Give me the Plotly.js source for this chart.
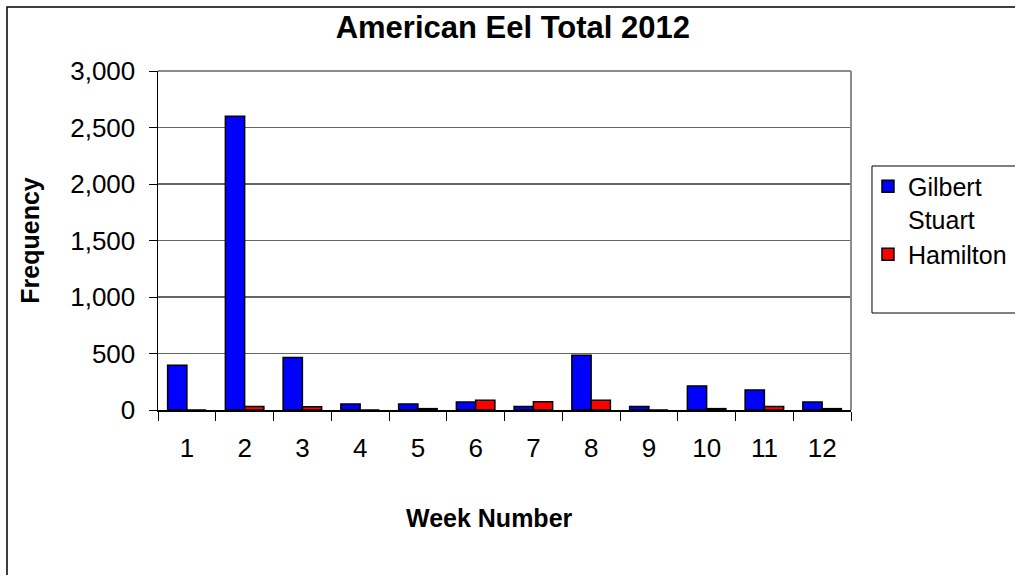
<!DOCTYPE html>
<html>
<head>
<meta charset="utf-8">
<script src="https://cdn.plot.ly/plotly-3.0.1.min.js"></script>
<style>
  html, body { margin: 0; padding: 0; background: #ffffff; }
  #chart { width: 1015px; height: 575px; }
</style>
</head>
<body>
<div id="chart"></div>
<script>
// Weekly American eel counts, 2012
const weeks = ['1', '2', '3', '4', '5', '6', '7', '8', '9', '10', '11', '12'];
const gilbertStuart = [395, 2600, 465, 52, 52, 70, 30, 485, 30, 213, 177, 70];
const hamilton = [0, 30, 28, 0, 12, 87, 72, 87, 0, 12, 30, 12];
const yTicks = [0, 500, 1000, 1500, 2000, 2500, 3000];
const yTickText = ['0', '500', '1,000', '1,500', '2,000', '2,500', '3,000'];

const FONT = 'Liberation Sans, Arial, Helvetica, sans-serif';

const traces = [
  {
    type: 'bar',
    name: 'Gilbert<br>Stuart',
    x: weeks,
    y: gilbertStuart,
    marker: { color: '#0000ff', line: { color: '#000000', width: 1.5 } },
    hoverinfo: 'x+y'
  },
  {
    type: 'bar',
    name: 'Hamilton',
    x: weeks,
    y: hamilton,
    marker: { color: '#ff0000', line: { color: '#000000', width: 1.5 } },
    hoverinfo: 'x+y'
  }
];

const layout = {
  width: 1015,
  height: 575,
  margin: { l: 158, r: 164, t: 71, b: 165, autoexpand: false },
  paper_bgcolor: '#ffffff',
  plot_bgcolor: '#ffffff',
  font: { family: FONT, color: '#000000', size: 26 },
  barmode: 'group',
  bargap: 0.333,
  bargroupgap: 0,
  title: {
    text: '<b>American Eel Total 2012</b>',
    font: { family: FONT, size: 31, color: '#000000' },
    xref: 'paper', x: 0.512, xanchor: 'center',
    yref: 'container', y: 0.953, yanchor: 'middle'
  },
  xaxis: {
    type: 'category',
    tickson: 'boundaries',
    ticks: 'outside', ticklen: 9, tickwidth: 1, tickcolor: '#000000',
    ticklabelstandoff: 14,
    tickfont: { family: FONT, size: 26, color: '#000000' },
    showline: true, linecolor: '#000000', linewidth: 1.5,
    showgrid: false, zeroline: false
  },
  yaxis: {
    range: [0, 3000],
    tickvals: yTicks,
    ticktext: yTickText,
    ticks: 'outside', ticklen: 8, tickwidth: 1, tickcolor: '#000000',
    ticklabelstandoff: 8,
    tickfont: { family: FONT, size: 26, color: '#000000' },
    showline: true, linecolor: '#000000', linewidth: 1.5,
    showgrid: true, gridcolor: '#666666', gridwidth: 1.3,
    zeroline: false,
    title: {
      text: '<b>Frequency</b>',
      font: { family: FONT, size: 25, color: '#000000' },
      standoff: 23
    }
  },
  // x-axis title, set slightly left of the plot centre
  annotations: [
    { text: '<b>Week Number</b>', xref: 'paper', yref: 'paper',
      x: 0.479, y: -0.32, xanchor: 'center', yanchor: 'middle',
      showarrow: false, font: { family: FONT, size: 25, color: '#000000' } }
  ],
  showlegend: true,
  legend: {
    x: 1.0245, xanchor: 'left',
    y: 0.727, yanchor: 'top',
    bgcolor: 'rgba(0,0,0,0)',
    borderwidth: 0,
    valign: 'top',
    traceorder: 'normal',
    font: { family: FONT, size: 25, color: '#000000' }
  },
  shapes: [
    // outer chart frame
    { type: 'rect', xref: 'paper', yref: 'paper',
      x0: -0.2179, x1: 1.2468, y0: -0.5074, y1: 1.1888,
      line: { color: '#000000', width: 1.5 }, fillcolor: 'rgba(0,0,0,0)', layer: 'above' },
    // legend box
    { type: 'rect', xref: 'paper', yref: 'paper',
      x0: 1.0303, x1: 1.2468, y0: 0.2861, y1: 0.7198,
      line: { color: '#000000', width: 1 }, fillcolor: 'rgba(0,0,0,0)', layer: 'above' },
    // plot area border, right side
    { type: 'line', xref: 'paper', yref: 'paper',
      x0: 1, x1: 1, y0: 0, y1: 1,
      line: { color: '#8c8c8c', width: 2 }, layer: 'above' },
    // plot area border, top side
    { type: 'line', xref: 'paper', yref: 'paper',
      x0: 0, x1: 1, y0: 1, y1: 1,
      line: { color: '#8c8c8c', width: 2 }, layer: 'above' }
  ]
};

Plotly.newPlot('chart', traces, layout, { displayModeBar: false, staticPlot: true });
</script>
</body>
</html>
